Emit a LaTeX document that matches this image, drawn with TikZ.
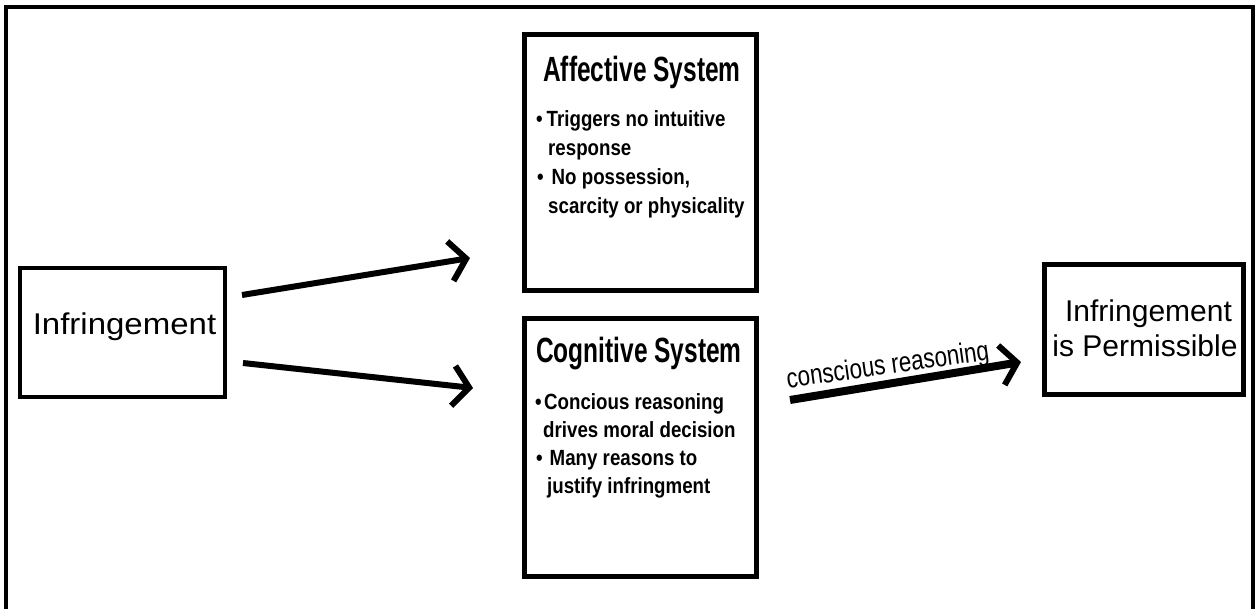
\documentclass[tikz,border=0pt]{standalone}
\usepackage{fontspec}
\setmainfont{Liberation Sans}
\newfontfamily\titlefont[FakeStretch=0.70]{Liberation Sans}
\newfontfamily\bulletfont[FakeStretch=0.85]{Liberation Sans}
\newfontfamily\labelfont[FakeStretch=0.80]{Liberation Sans}
\newfontfamily\widefont[FakeStretch=1.10]{Liberation Sans}
\usetikzlibrary{arrows.meta}
\begin{document}
\begin{tikzpicture}[x=1pt,y=-1pt,
  box/.style={draw=black, line width=5pt, rectangle, inner sep=0pt},
  sysbox/.style={box},
  title/.style={anchor=base, inner sep=0pt, font=\titlefont\bfseries\fontsize{35}{40}\selectfont},
  bline/.style={anchor=base west, inner sep=0pt, font=\bulletfont\bfseries\fontsize{22}{26}\selectfont},
  plain/.style={anchor=base, inner sep=0pt, font=\fontsize{30}{35}\selectfont},
  flow/.style={line width=6pt, -{Straight Barb[length=16pt,width=40pt,line width=6pt]}},
]
\useasboundingbox (0,0) rectangle (1256,609);
\fill[white] (0,0) rectangle (1256,609);
% outer frame
\draw[line width=4pt] (5.5,609) -- (5.5,7.5) -- (1253,7.5) -- (1253,609);

% Infringement box
\node[box, line width=4.5pt, minimum width=205pt, minimum height=129pt] (inf) at (122.5,332.5) {};
\node[plain, font=\widefont\fontsize{30}{35}\selectfont] (inftxt) at (124.5,335) {Infringement};

% Affective system
\node[sysbox, minimum width=232pt, minimum height=256pt] (aff) at (640,163) {};
\node[title] (afftitle) at (642,82) {Affective System};
\node[bline] (a1) at (536,127) {\textbullet\hspace{4pt}Triggers no intuitive};
\node[bline] (a2) at (548,155.7) {response};
\node[bline] (a3) at (537,184.4) {\textbullet\hspace{8pt}No possession,};
\node[bline] (a4) at (548,213.1) {scarcity or physicality};

% Cognitive system
\node[sysbox, minimum width=232pt, minimum height=257pt] (cog) at (640,447.5) {};
\node[title] (cogtitle) at (639,363) {Cognitive System};
\node[bline] (c1) at (535,410) {\textbullet\hspace{2.5pt}Concious reasoning};
\node[bline] (c2) at (543,437.7) {drives moral decision};
\node[bline] (c3) at (536,465.4) {\textbullet\hspace{7pt}Many reasons to};
\node[bline] (c4) at (547,493.1) {justify infringment};

% Permissible box
\node[box, minimum width=199pt, minimum height=130pt] (perm) at (1143.5,330) {};
\node[plain] (perm1) at (1148.5,322) {Infringement};
\node[plain] (perm2) at (1145,357) {is Permissible};

% arrows
\coordinate (u0) at (242,295);
\coordinate (u1) at (470,258);
\coordinate (l0) at (243,363);
\coordinate (l1) at (473,388);
\coordinate (r0) at (790,400);
\coordinate (r1) at (1021,362);
\draw[flow] (u0) -- (u1);
\draw[flow] (l0) -- (l1);
\draw[flow, line width=8pt] (r0) -- (r1);
\node[anchor=base, inner sep=0pt, rotate=8, font=\labelfont\fontsize{28}{32}\selectfont] (crlabel) at (889,374) {conscious reasoning};
\end{tikzpicture}
\end{document}
